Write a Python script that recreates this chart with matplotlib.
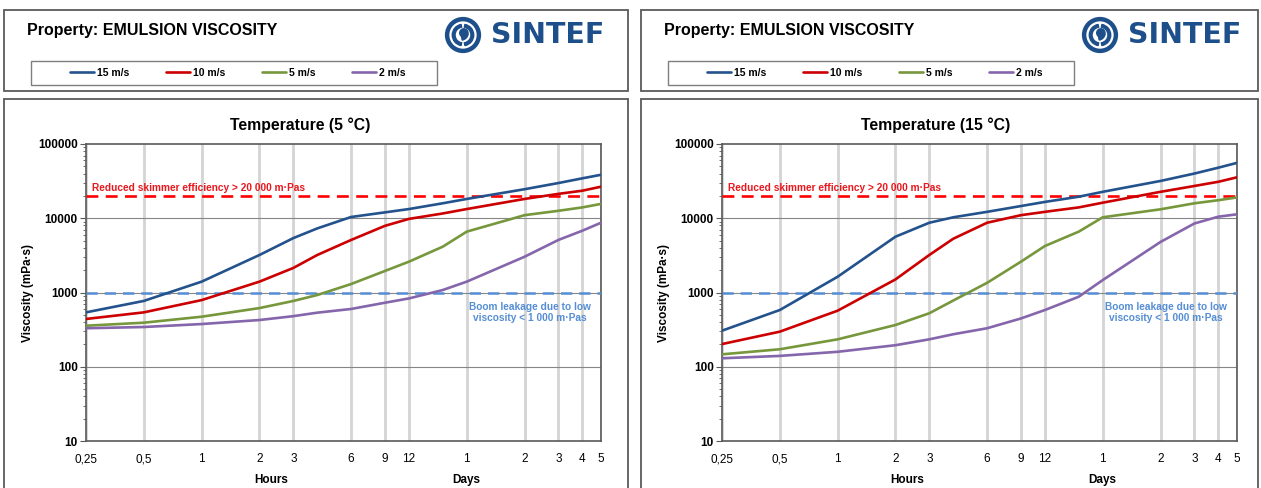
import matplotlib.pyplot as plt
from matplotlib.patches import Rectangle, Circle, Wedge
from matplotlib.ticker import FixedLocator, NullFormatter, LogLocator

plt.rcParams['font.family'] = ['Liberation Sans', 'DejaVu Sans']

# time axis in hours (Excel chart: log scale from 15 min to 5 days)
hours = [0.25, 0.5, 1, 2, 3, 4, 6, 9, 12, 18, 24, 48, 72, 96, 120]
tick_hours = [0.25, 0.5, 1, 2, 3, 6, 9, 12, 24, 48, 72, 96, 120]
tick_labels = ['0,25', '0,5', '1', '2', '3', '6', '9', '12', '1', '2', '3', '4', '5']

wind_labels = ['15 m/s', '10 m/s', '5 m/s', '2 m/s']
wind_colors = ['#23528C', '#CC0000', '#77973D', '#8566AC']

# viscosity (mPa.s), 5 degC
visc_5c_15 = [540, 770, 1400, 3200, 5400, 7300, 10400, 12000, 13300, 15900, 18200, 24600, 29800, 34500, 38500]
visc_5c_10 = [440, 540, 790, 1400, 2140, 3200, 5100, 7900, 9800, 11600, 13300, 18200, 21300, 23500, 26600]
visc_5c_5 = [357, 392, 472, 617, 769, 925, 1300, 1950, 2600, 4140, 6600, 11000, 12600, 14000, 15600]
visc_5c_2 = [330, 343, 376, 426, 480, 535, 600, 728, 832, 1080, 1400, 3030, 5100, 6800, 8700]

# 15 degC
visc_15c_15 = [306, 581, 1630, 5640, 8700, 10300, 12200, 14600, 16600, 19500, 22700, 31800, 40000, 48000, 55700]
visc_15c_10 = [202, 297, 569, 1500, 3200, 5300, 8700, 11000, 12200, 14000, 16200, 22700, 27200, 31000, 35600]
visc_15c_5 = [147, 172, 234, 365, 525, 780, 1350, 2600, 4230, 6600, 10300, 13200, 15900, 17500, 19100]
visc_15c_2 = [130, 140, 159, 195, 234, 274, 330, 447, 581, 877, 1470, 4800, 8500, 10500, 11300]

skimmer_limit = 20000
boom_limit = 1000

W, H = 1261, 488
fig = plt.figure(figsize=(W / 100, H / 100), dpi=100)


def fx(px):
    return px / W


def fy(py):
    return 1 - py / H


def frame(x0, y0, x1, y1, color='#5A5A5A', lw=1.3):
    fig.patches.append(Rectangle((fx(x0), fy(y1)), fx(x1) - fx(x0), fy(y0) - fy(y1),
                                 transform=fig.transFigure, fill=False, edgecolor=color, lw=lw))


def draw_logo(cx, cy):
    lax = fig.add_axes([fx(cx - 19), fy(cy + 19), fx(38), 38 / H])
    lax.set_xlim(-1.1, 1.1)
    lax.set_ylim(-1.1, 1.1)
    lax.set_aspect('equal')
    lax.axis('off')
    blue = '#1D4F8B'
    lax.add_patch(Circle((0, 0), 0.92, fill=False, ec=blue, lw=3.2))
    lax.add_patch(Wedge((0, 0), 0.62, 100, 260, width=0.16, color=blue))
    lax.add_patch(Wedge((0, 0), 0.62, 280, 80, width=0.16, color=blue))
    lax.add_patch(Circle((0.05, 0.12), 0.24, color=blue))
    lax.add_patch(Wedge((-0.12, 0.12), 0.42, 280, 350, width=0.2, color=blue))
    fig.text(fx(cx + 28), fy(cy), 'SINTEF', fontsize=20.5, fontweight='bold',
             family='DejaVu Sans', color=blue, ha='left', va='center')


def draw_header(x0, x1, handles):
    frame(x0, 10.5, x1, 90.5)
    fig.text(fx(x0 + 23), fy(31), 'Property: EMULSION VISCOSITY', fontsize=11.5,
             fontweight='bold', ha='left', va='center')
    frame(x0 + 26.5, 60.5, x0 + 433, 84.5, color='#7F7F7F', lw=1.0)
    fig.legend(handles, wind_labels, ncol=4, loc='center',
               bbox_to_anchor=(fx(x0 + 234), fy(72.5)), frameon=False,
               prop={'size': 7.5, 'weight': 'bold'}, handlelength=2.3,
               handletextpad=0.3, columnspacing=3.5, borderpad=0)
    draw_logo(x0 + 459, 35)


def draw_chart(x0, x1, ax_left, title, series):
    frame(x0, 99, x1, 495)
    ax = fig.add_axes([fx(ax_left), fy(441), fx(515), 297 / H])
    lines = []
    for vals, color in zip(series, wind_colors):
        ln, = ax.plot(hours, vals, color=color, lw=1.9, zorder=4,
                      solid_capstyle='round', solid_joinstyle='round')
        lines.append(ln)

    ax.axhline(skimmer_limit, color='#FF0000', lw=1.9, ls=(0, (4.5, 2.8)), zorder=3)
    ax.axhline(boom_limit, color='#558ED5', lw=1.8, ls=(0, (4.5, 2.8)), zorder=3)
    ax.text(0.268, skimmer_limit * 1.09, 'Reduced skimmer efficiency > 20 000 m·Pas',
            color='#E8181E', fontsize=7.3, fontweight='bold', ha='left', va='bottom')
    ax.text(51, boom_limit * 0.74, 'Boom leakage due to low\nviscosity < 1 000 m·Pas',
            color='#558ED5', fontsize=7.3, fontweight='bold', ha='center', va='top',
            linespacing=1.15)

    ax.set_xscale('log')
    ax.set_yscale('log')
    ax.set_xlim(0.25, 120)
    ax.set_ylim(10, 100000)

    ax.xaxis.set_major_locator(FixedLocator(tick_hours))
    ax.set_xticklabels(tick_labels)
    ax.xaxis.set_minor_formatter(NullFormatter())
    ax.xaxis.set_minor_locator(FixedLocator([]))
    ax.tick_params(axis='x', length=0, pad=9, labelsize=8.5)
    ax.grid(axis='x', which='major', color='#D4D4D4', lw=2.0)

    ax.yaxis.set_major_locator(FixedLocator([10, 100, 1000, 10000, 100000]))
    ax.set_yticklabels(['10', '100', '1000', '10000', '100000'])
    ax.yaxis.set_minor_locator(LogLocator(base=10, subs=range(2, 10)))
    ax.yaxis.set_minor_formatter(NullFormatter())
    ax.tick_params(axis='y', which='major', length=4, color='#595959', labelsize=8.5, pad=2)
    ax.tick_params(axis='y', which='minor', length=2.5, color='#595959')
    for lab in ax.get_yticklabels():
        lab.set_fontweight('bold')
    for yv in [100, 1000, 10000]:
        ax.axhline(yv, color='#868686', lw=0.8, zorder=2)

    for sp in ax.spines.values():
        sp.set_color('#595959')
        sp.set_linewidth(1.2)

    ax.set_ylabel('Viscosity (mPa·s)', fontsize=8.5, fontweight='bold', labelpad=3)
    fig.text(fx(ax_left + 214), fy(125), title, fontsize=11.3, fontweight='bold',
             ha='center', va='center')
    ax.annotate('Hours', xy=(2.3, -0.13), xycoords=('data', 'axes fraction'),
                ha='center', va='center', fontsize=8.5, fontweight='bold')
    ax.annotate('Days', xy=(24, -0.13), xycoords=('data', 'axes fraction'),
                ha='center', va='center', fontsize=8.5, fontweight='bold')
    return lines


lines_left = draw_chart(4, 628, 86, 'Temperature (5 °C)',
                        [visc_5c_15, visc_5c_10, visc_5c_5, visc_5c_2])
lines_right = draw_chart(641, 1258, 722, 'Temperature (15 °C)',
                         [visc_15c_15, visc_15c_10, visc_15c_5, visc_15c_2])

draw_header(4, 628, lines_left)
draw_header(641, 1258, lines_right)

fig.savefig('out.png', dpi=100)
